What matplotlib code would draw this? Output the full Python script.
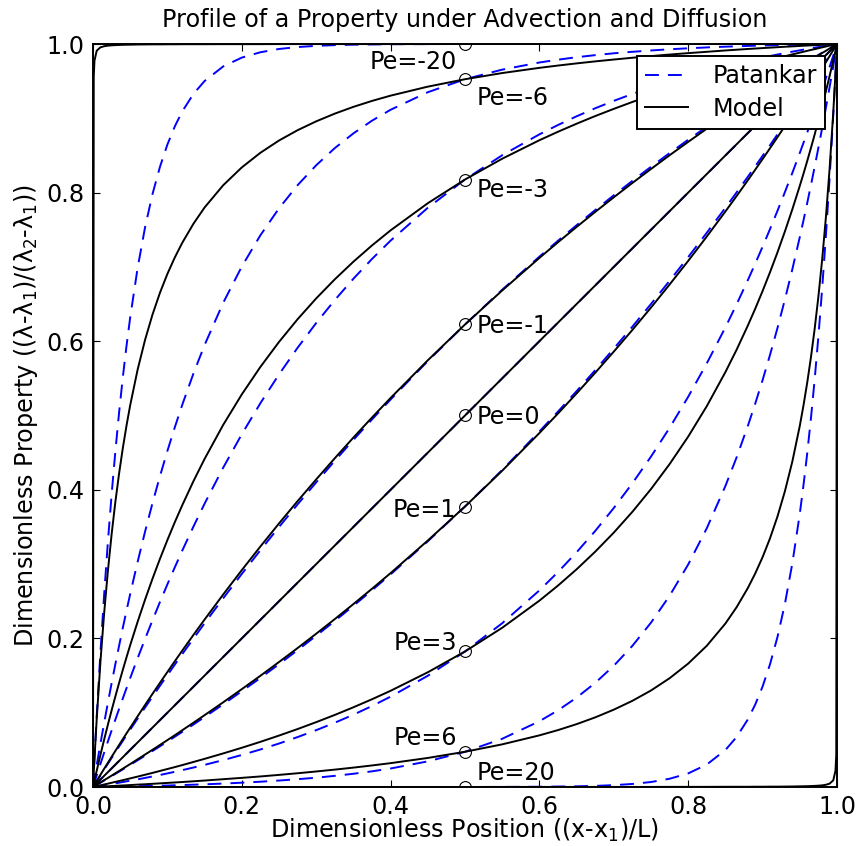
import matplotlib
matplotlib.use('Agg')
import matplotlib.pyplot as plt

plt.rcParams['font.family'] = ['DejaVu Sans']
plt.rcParams['font.size'] = 17.2
plt.rcParams['lines.scale_dashes'] = False

# dimensionless position (dense near the walls)
x_pos = [0, 0.001, 0.002, 0.005, 0.01, 0.015, 0.02, 0.025, 0.03, 0.035, 0.04, 0.045, 0.05,
         0.06, 0.07, 0.08, 0.09, 0.1, 0.11, 0.12, 0.135, 0.15, 0.175, 0.2, 0.225, 0.25, 0.275,
         0.3, 0.325, 0.35, 0.375, 0.4, 0.45, 0.5, 0.55, 0.6, 0.625, 0.65, 0.675, 0.7, 0.725,
         0.75, 0.775, 0.8, 0.825, 0.85, 0.865, 0.88, 0.89, 0.9, 0.91, 0.92, 0.93, 0.94, 0.95,
         0.955, 0.96, 0.965, 0.97, 0.975, 0.98, 0.985, 0.99, 0.995, 0.998, 0.999, 1]
x_ends = [0.0, 1.0]

# Patankar (dashed) profiles
pat_m20 = [0, 0.0198, 0.0392, 0.0952, 0.1813, 0.2592, 0.3297, 0.3935, 0.4512, 0.5034, 0.5507,
           0.5934, 0.6321, 0.6988, 0.7534, 0.7981, 0.8347, 0.8647, 0.8892, 0.9093, 0.9328,
           0.9502, 0.9698, 0.9817, 0.9889, 0.9933, 0.9959, 0.9975, 0.9985, 0.9991, 0.9994,
           0.9997, 0.9999, 1.0, 1.0, 1.0, 1.0, 1.0, 1.0, 1.0, 1.0, 1.0, 1.0, 1.0, 1.0, 1.0,
           1.0, 1.0, 1.0, 1.0, 1.0, 1.0, 1.0, 1.0, 1.0, 1.0, 1.0, 1.0, 1.0, 1.0, 1.0, 1.0,
           1.0, 1.0, 1.0, 1.0, 1.0]
pat_m6 = [0, 0.0060, 0.0120, 0.0296, 0.0584, 0.0863, 0.1134, 0.1396, 0.1651, 0.1898, 0.2139,
          0.2372, 0.2598, 0.3031, 0.3438, 0.3822, 0.4183, 0.4523, 0.4843, 0.5145, 0.5565,
          0.5949, 0.6517, 0.7005, 0.7426, 0.7788, 0.8100, 0.8368, 0.8599, 0.8797, 0.8968,
          0.9115, 0.9351, 0.9526, 0.9655, 0.9751, 0.9789, 0.9822, 0.9850, 0.9875, 0.9895,
          0.9913, 0.9929, 0.9942, 0.9954, 0.9964, 0.9969, 0.9974, 0.9977, 0.9980, 0.9982,
          0.9985, 0.9987, 0.9989, 0.9991, 0.9992, 0.9993, 0.9994, 0.9995, 0.9996, 0.9997,
          0.9998, 0.9998, 0.9999, 1.0, 1.0, 1.0]
pat_m3 = [0, 0.0032, 0.0063, 0.0157, 0.0311, 0.0463, 0.0613, 0.0760, 0.0906, 0.1049, 0.1190,
          0.1329, 0.1466, 0.1734, 0.1993, 0.2245, 0.2490, 0.2728, 0.2958, 0.3182, 0.3505,
          0.3814, 0.4298, 0.4748, 0.5166, 0.5553, 0.5912, 0.6245, 0.6554, 0.6841, 0.7107,
          0.7354, 0.7796, 0.8176, 0.8503, 0.8784, 0.8910, 0.9027, 0.9135, 0.9235, 0.9328,
          0.9415, 0.9495, 0.9569, 0.9638, 0.9702, 0.9738, 0.9773, 0.9795, 0.9817, 0.9838,
          0.9858, 0.9878, 0.9897, 0.9915, 0.9924, 0.9933, 0.9942, 0.9951, 0.9959, 0.9967,
          0.9976, 0.9984, 0.9992, 0.9997, 0.9998, 1.0]
pat_m1 = [0, 0.0016, 0.0032, 0.0079, 0.0157, 0.0236, 0.0313, 0.0391, 0.0468, 0.0544, 0.0620,
          0.0696, 0.0772, 0.0921, 0.1070, 0.1216, 0.1362, 0.1505, 0.1648, 0.1789, 0.1998,
          0.2204, 0.2540, 0.2868, 0.3187, 0.3499, 0.3804, 0.4100, 0.4390, 0.4672, 0.4947,
          0.5215, 0.5733, 0.6225, 0.6693, 0.7138, 0.7352, 0.7561, 0.7765, 0.7964, 0.8158,
          0.8347, 0.8532, 0.8711, 0.8887, 0.9058, 0.9159, 0.9258, 0.9323, 0.9388, 0.9452,
          0.9515, 0.9578, 0.9640, 0.9702, 0.9732, 0.9763, 0.9793, 0.9823, 0.9853, 0.9883,
          0.9912, 0.9942, 0.9971, 0.9989, 0.9995, 1.0]
pat_0 = [0.0, 1.0]
pat_p1 = [0, 0.0005, 0.0011, 0.0029, 0.0058, 0.0088, 0.0117, 0.0147, 0.0177, 0.0207, 0.0237,
          0.0268, 0.0298, 0.0360, 0.0422, 0.0485, 0.0548, 0.0612, 0.0677, 0.0742, 0.0841,
          0.0942, 0.1113, 0.1289, 0.1468, 0.1653, 0.1842, 0.2036, 0.2235, 0.2439, 0.2648,
          0.2862, 0.3307, 0.3775, 0.4267, 0.4785, 0.5053, 0.5328, 0.5610, 0.5900, 0.6196,
          0.6501, 0.6813, 0.7132, 0.7460, 0.7796, 0.8002, 0.8211, 0.8352, 0.8495, 0.8638,
          0.8784, 0.8930, 0.9079, 0.9228, 0.9304, 0.9380, 0.9456, 0.9532, 0.9609, 0.9687,
          0.9764, 0.9843, 0.9921, 0.9968, 0.9984, 1.0]
pat_p3 = [0, 0.0002, 0.0003, 0.0008, 0.0016, 0.0024, 0.0033, 0.0041, 0.0049, 0.0058, 0.0067,
          0.0076, 0.0085, 0.0103, 0.0122, 0.0142, 0.0162, 0.0183, 0.0205, 0.0227, 0.0262,
          0.0298, 0.0362, 0.0431, 0.0505, 0.0585, 0.0672, 0.0765, 0.0865, 0.0973, 0.1090,
          0.1216, 0.1497, 0.1824, 0.2204, 0.2646, 0.2893, 0.3159, 0.3446, 0.3755, 0.4088,
          0.4447, 0.4834, 0.5252, 0.5702, 0.6186, 0.6495, 0.6818, 0.7042, 0.7272, 0.7510,
          0.7755, 0.8007, 0.8266, 0.8534, 0.8671, 0.8810, 0.8951, 0.9094, 0.9240, 0.9387,
          0.9537, 0.9689, 0.9843, 0.9937, 0.9968, 1.0]
pat_p6 = [0, 0, 0, 0.0001, 0.0002, 0.0002, 0.0003, 0.0004, 0.0005, 0.0006, 0.0007, 0.0008,
          0.0009, 0.0011, 0.0013, 0.0015, 0.0018, 0.0020, 0.0023, 0.0026, 0.0031, 0.0036,
          0.0046, 0.0058, 0.0071, 0.0087, 0.0105, 0.0125, 0.0150, 0.0178, 0.0211, 0.0249,
          0.0345, 0.0474, 0.0649, 0.0885, 0.1032, 0.1203, 0.1401, 0.1632, 0.1900, 0.2212,
          0.2574, 0.2995, 0.3483, 0.4051, 0.4435, 0.4855, 0.5157, 0.5477, 0.5817, 0.6178,
          0.6562, 0.6969, 0.7402, 0.7628, 0.7861, 0.8102, 0.8349, 0.8604, 0.8866, 0.9137,
          0.9416, 0.9704, 0.9880, 0.9940, 1.0]
pat_p20 = [0, 0, 0, 0, 0, 0, 0, 0, 0, 0, 0, 0, 0, 0, 0, 0, 0, 0, 0, 0, 0, 0, 0, 0, 0, 0, 0,
           0, 0, 0, 0, 0, 0, 0, 0.0001, 0.0003, 0.0006, 0.0009, 0.0015, 0.0025, 0.0041,
           0.0067, 0.0111, 0.0183, 0.0302, 0.0498, 0.0672, 0.0907, 0.1108, 0.1353, 0.1653,
           0.2019, 0.2466, 0.3012, 0.3679, 0.4066, 0.4493, 0.4966, 0.5488, 0.6065, 0.6703,
           0.7408, 0.8187, 0.9048, 0.9608, 0.9802, 1.0]

# Model (solid) profiles
mod_m20 = [0, 0.9566, 0.9778, 0.9910, 0.9955, 0.9970, 0.9978, 0.9982, 0.9985, 0.9987, 0.9989,
           0.9990, 0.9991, 0.9993, 0.9994, 0.9995, 0.9995, 0.9996, 0.9996, 0.9997, 0.9997,
           0.9997, 0.9998, 0.9998, 0.9998, 0.9999, 0.9999, 0.9999, 0.9999, 0.9999, 0.9999,
           0.9999, 0.9999, 1.0, 1.0, 1.0, 1.0, 1.0, 1.0, 1.0, 1.0, 1.0, 1.0, 1.0, 1.0, 1.0,
           1.0, 1.0, 1.0, 1.0, 1.0, 1.0, 1.0, 1.0, 1.0, 1.0, 1.0, 1.0, 1.0, 1.0, 1.0, 1.0,
           1.0, 1.0, 1.0, 1.0, 1.0]
mod_m6 = [0, 0.0197, 0.0387, 0.0917, 0.1687, 0.2342, 0.2907, 0.3399, 0.3832, 0.4215, 0.4556,
          0.4862, 0.5139, 0.5618, 0.6019, 0.6359, 0.6652, 0.6906, 0.7128, 0.7325, 0.7581,
          0.7800, 0.8099, 0.8339, 0.8536, 0.8701, 0.8840, 0.8959, 0.9063, 0.9154, 0.9234,
          0.9305, 0.9426, 0.9526, 0.9609, 0.9679, 0.9710, 0.9739, 0.9766, 0.9791, 0.9815,
          0.9837, 0.9858, 0.9877, 0.9895, 0.9913, 0.9923, 0.9933, 0.9939, 0.9945, 0.9951,
          0.9957, 0.9963, 0.9968, 0.9974, 0.9977, 0.9979, 0.9982, 0.9985, 0.9987, 0.9990,
          0.9992, 0.9995, 0.9998, 0.9999, 1.0, 1.0]
mod_m3 = [0, 0.0045, 0.0089, 0.0220, 0.0433, 0.0639, 0.0838, 0.1031, 0.1217, 0.1398, 0.1574,
          0.1744, 0.1909, 0.2224, 0.2522, 0.2804, 0.3071, 0.3324, 0.3565, 0.3793, 0.4116,
          0.4416, 0.4874, 0.5284, 0.5654, 0.5990, 0.6296, 0.6576, 0.6833, 0.7070, 0.7289,
          0.7492, 0.7857, 0.8176, 0.8456, 0.8705, 0.8819, 0.8927, 0.9030, 0.9127, 0.9220,
          0.9308, 0.9392, 0.9472, 0.9548, 0.9621, 0.9663, 0.9705, 0.9732, 0.9758, 0.9784,
          0.9810, 0.9835, 0.9860, 0.9884, 0.9896, 0.9908, 0.9920, 0.9931, 0.9943, 0.9955,
          0.9966, 0.9978, 0.9989, 0.9996, 0.9998, 1.0]
mod_m1 = [0, 0.0016, 0.0033, 0.0082, 0.0164, 0.0245, 0.0326, 0.0406, 0.0485, 0.0564, 0.0643,
          0.0721, 0.0798, 0.0952, 0.1104, 0.1254, 0.1402, 0.1548, 0.1693, 0.1836, 0.2047,
          0.2254, 0.2591, 0.2919, 0.3237, 0.3547, 0.3848, 0.4140, 0.4425, 0.4703, 0.4973,
          0.5236, 0.5743, 0.6225, 0.6683, 0.7121, 0.7332, 0.7538, 0.7740, 0.7937, 0.8130,
          0.8318, 0.8503, 0.8683, 0.8860, 0.9033, 0.9135, 0.9236, 0.9303, 0.9369, 0.9434,
          0.9499, 0.9563, 0.9627, 0.9691, 0.9722, 0.9754, 0.9785, 0.9816, 0.9847, 0.9878,
          0.9908, 0.9939, 0.9970, 0.9988, 0.9994, 1.0]
mod_0 = [0.0, 1.0]
mod_p1 = [0, 0.0006, 0.0012, 0.0030, 0.0061, 0.0092, 0.0122, 0.0153, 0.0184, 0.0215, 0.0246,
          0.0278, 0.0309, 0.0373, 0.0437, 0.0501, 0.0566, 0.0631, 0.0697, 0.0764, 0.0865,
          0.0967, 0.1140, 0.1317, 0.1497, 0.1682, 0.1870, 0.2063, 0.2260, 0.2462, 0.2668,
          0.2879, 0.3317, 0.3775, 0.4257, 0.4764, 0.5027, 0.5297, 0.5575, 0.5860, 0.6152,
          0.6453, 0.6763, 0.7081, 0.7409, 0.7746, 0.7953, 0.8164, 0.8307, 0.8452, 0.8598,
          0.8746, 0.8896, 0.9048, 0.9202, 0.9279, 0.9357, 0.9436, 0.9515, 0.9594, 0.9674,
          0.9755, 0.9836, 0.9918, 0.9967, 0.9984, 1.0]
mod_p3 = [0, 0.0002, 0.0004, 0.0011, 0.0022, 0.0034, 0.0045, 0.0057, 0.0069, 0.0080, 0.0092,
          0.0104, 0.0116, 0.0140, 0.0165, 0.0190, 0.0216, 0.0242, 0.0268, 0.0295, 0.0337,
          0.0379, 0.0452, 0.0528, 0.0608, 0.0692, 0.0780, 0.0873, 0.0970, 0.1073, 0.1181,
          0.1295, 0.1544, 0.1824, 0.2143, 0.2508, 0.2711, 0.2930, 0.3167, 0.3424, 0.3704,
          0.4010, 0.4346, 0.4716, 0.5126, 0.5584, 0.5884, 0.6207, 0.6435, 0.6676, 0.6929,
          0.7196, 0.7478, 0.7776, 0.8091, 0.8256, 0.8426, 0.8602, 0.8783, 0.8969, 0.9162,
          0.9361, 0.9567, 0.9780, 0.9911, 0.9955, 1.0]
mod_p6 = [0, 0, 0.0001, 0.0002, 0.0005, 0.0008, 0.0010, 0.0013, 0.0015, 0.0018, 0.0021,
          0.0023, 0.0026, 0.0032, 0.0037, 0.0043, 0.0049, 0.0055, 0.0061, 0.0067, 0.0077,
          0.0087, 0.0105, 0.0123, 0.0142, 0.0163, 0.0185, 0.0209, 0.0234, 0.0261, 0.0290,
          0.0321, 0.0391, 0.0474, 0.0574, 0.0695, 0.0766, 0.0846, 0.0937, 0.1041, 0.1160,
          0.1299, 0.1464, 0.1661, 0.1901, 0.2200, 0.2419, 0.2675, 0.2872, 0.3094, 0.3348,
          0.3641, 0.3981, 0.4382, 0.4861, 0.5138, 0.5444, 0.5785, 0.6168, 0.6601, 0.7093,
          0.7658, 0.8313, 0.9083, 0.9613, 0.9803, 1.0]
mod_p20 = [0, 0, 0, 0, 0, 0, 0, 0, 0, 0, 0, 0, 0, 0, 0, 0, 0, 0, 0, 0, 0, 0, 0, 0, 0, 0, 0,
           0, 0, 0, 0, 0, 0, 0, 0.0001, 0.0001, 0.0001, 0.0001, 0.0001, 0.0001, 0.0001,
           0.0001, 0.0002, 0.0002, 0.0002, 0.0003, 0.0003, 0.0003, 0.0004, 0.0004, 0.0005,
           0.0005, 0.0006, 0.0007, 0.0009, 0.0010, 0.0011, 0.0013, 0.0015, 0.0018, 0.0022,
           0.0030, 0.0045, 0.0090, 0.0222, 0.0434, 1.0]

# markers at the mid point
peclet = [-20, -6, -3, -1, 0, 1, 3, 6, 20]
mid_x = 0.5
mid_vals = [1.0, 0.9526, 0.8176, 0.6225, 0.5, 0.3775, 0.1824, 0.0474, 0.0]

pat_curves = [pat_m20, pat_m6, pat_m3, pat_m1, pat_0, pat_p1, pat_p3, pat_p6, pat_p20]
mod_curves = [mod_m20, mod_m6, mod_m3, mod_m1, mod_0, mod_p1, mod_p3, mod_p6, mod_p20]

# label placement: (ha, dx px, dy px to baseline)
label_style = [('right', -8, -25), ('left', 12, -26), ('left', 12, -17), ('left', 12, -9),
               ('left', 12, -9), ('right', -9, -10), ('right', -8, 1), ('right', -8, 7),
               ('left', 12, 7)]

fig = plt.figure(figsize=(8.58, 8.46), dpi=100)
ax = fig.add_axes([93/858, 1-787/846, 744/858, 743/846])

for i in range(len(peclet)):
    xs = x_ends if len(pat_curves[i]) == 2 else x_pos
    ax.plot(xs, pat_curves[i], color='b', ls='--', dashes=(10, 6.5), lw=1.4,
            label='Patankar' if i == 0 else None)
for i in range(len(peclet)):
    xs = x_ends if len(mod_curves[i]) == 2 else x_pos
    ax.plot(xs, mod_curves[i], color='k', lw=1.4, label='Model' if i == 0 else None)

for pe, val, (ha, dx, dy) in zip(peclet, mid_vals, label_style):
    ax.plot(mid_x, val, 'o', mfc='none', mec='k', ms=8.5, mew=0.8)
    ax.annotate('Pe=%d' % pe, (mid_x, val), xytext=(dx, dy), textcoords='offset pixels',
                ha=ha, va='baseline')

ax.set_xlim(0, 1)
ax.set_ylim(0, 1)
ax.set_xticks([0.0, 0.2, 0.4, 0.6, 0.8, 1.0])
ax.set_yticks([0.0, 0.2, 0.4, 0.6, 0.8, 1.0])
ax.set_xticklabels(['0.0', '0.2', '0.4', '0.6', '0.8', '1.0'])
ax.set_yticklabels(['0.0', '0.2', '0.4', '0.6', '0.8', '1.0'])
ax.tick_params(direction='in', top=True, right=True, length=5, width=0.8, pad=6)
for s in ax.spines.values():
    s.set_linewidth(1.4)

ax.set_title('Profile of a Property under Advection and Diffusion', fontsize=17.2, pad=12)
ax.set_xlabel('Dimensionless Position ((x-x$_1$)/L)', labelpad=-1.5)
ax.set_ylabel('Dimensionless Property ((λ-λ$_1$)/(λ$_2$-λ$_1$))', labelpad=5)

leg = ax.legend(loc='upper right', fancybox=False, borderaxespad=0.5, borderpad=0.35,
                labelspacing=0.35, handlelength=1.8, handletextpad=1.0, framealpha=1)
leg.get_frame().set_edgecolor('k')
leg.get_frame().set_linewidth(1.4)

fig.savefig('out.png', dpi=100)
